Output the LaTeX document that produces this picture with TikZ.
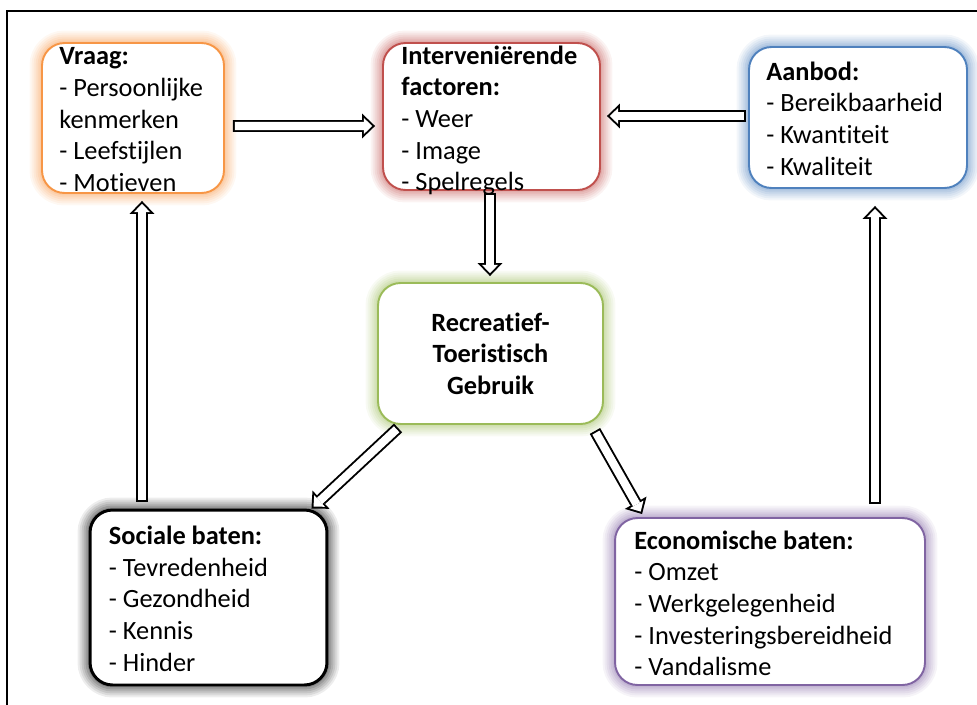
\documentclass[tikz,border=0pt]{standalone}
\usepackage{fontspec}
\setmainfont{Carlito}[Ligatures=NoCommon]
\usetikzlibrary{arrows.meta}
\definecolor{vraagoranje}{HTML}{F79646}
\definecolor{factorrood}{HTML}{C0504D}
\definecolor{aanbodblauw}{HTML}{4F81BD}
\definecolor{gebruikgroen}{HTML}{9BBB59}
\definecolor{batenpaars}{HTML}{8064A2}
\begin{document}
\begin{tikzpicture}[x=0.02cm, y=-0.02cm,
    kader/.style={rectangle, rounded corners=0.45cm, fill=white, line width=1.1pt, inner sep=0pt},
    gloed/.style={draw=#1,
      preaction={draw=#1, draw opacity=0.07, line width=0.5cm},
      preaction={draw=#1, draw opacity=0.08, line width=0.42cm},
      preaction={draw=#1, draw opacity=0.09, line width=0.34cm},
      preaction={draw=#1, draw opacity=0.10, line width=0.26cm},
      preaction={draw=#1, draw opacity=0.12, line width=0.18cm},
      preaction={draw=#1, draw opacity=0.14, line width=0.1cm}},
    tekst/.style={anchor=north west, inner sep=0pt, align=left,
      font=\fontsize{15}{18}\selectfont, execute at begin node=\strut}]
      \useasboundingbox (0,0) rectangle (977,704);
      \draw[line width=1.7pt] (7,11) rectangle (1020,740);
      \begin{scope}[every node/.style={kader}]
        \node[gloed=vraagoranje, minimum width=3.64cm, minimum height=3cm] (vraag) at (133,118) {};
        \node[gloed=factorrood, minimum width=4.34cm, minimum height=2.94cm] (factoren) at (491.5,116.5) {};
        \node[gloed=aanbodblauw, minimum width=4.36cm, minimum height=2.82cm] (aanbod) at (858,117.5) {};
        \node[gloed=gebruikgroen, minimum width=4.5cm, minimum height=2.82cm, align=center,
          font=\fontsize{15}{18}\selectfont\bfseries] (gebruik) at (490.5,353.5)
          {Recreatief-\\Toeristisch\\Gebruik};
        \node[gloed=black, line width=1.7pt, minimum width=4.74cm, minimum height=3.5cm] (sociaal) at (208.5,597.5) {};
        \node[gloed=batenpaars, minimum width=6.2cm, minimum height=3.34cm] (economisch) at (770,601.5) {};
      \end{scope}
      \node[tekst] (vraag-tekst) at ([shift={(18,5.3)}]vraag.north west)
        {\textbf{Vraag:}\\- Persoonlijke\\kenmerken\\- Leefstijlen\\- Motieven};
      \node[tekst] (factoren-tekst) at ([shift={(19,3.3)}]factoren.north west)
        {\textbf{Interveniërende}\\\textbf{factoren:}\\- Weer\\- Image\\- Spelregels};
      \node[tekst] (aanbod-tekst) at ([shift={(18,15.3)}]aanbod.north west)
        {\textbf{Aanbod:}\\- Bereikbaarheid\\- Kwantiteit\\- Kwaliteit};
      \node[tekst] (sociaal-tekst) at ([shift={(20,17.3)}]sociaal.north west)
        {\textbf{Sociale baten:}\\- Tevredenheid\\- Gezondheid\\- Kennis\\- Hinder};
      \node[tekst] (economisch-tekst) at ([shift={(20,13.3)}]economisch.north west)
        {\textbf{Economische baten:}\\- Omzet\\- Werkgelegenheid\\- Investeringsbereidheid\\- Vandalisme};
      \begin{scope}[every edge/.style={draw=black, line width=6.8pt,
          -{Triangle[length=7.4pt, width=14.2pt, line width=0pt]},
          postaction={draw=white, line width=4.6pt, shorten <=1.1pt, shorten >=1.6pt,
            -{Triangle[length=4.7pt, width=9pt, line width=0pt]}}}]
        \path ([shift={(8,8)}]vraag.east) edge ([shift={(-7,9.5)}]factoren.west);
        \path ([shift={(-2,-1.5)}]aanbod.west) edge ([shift={(6,-0.5)}]factoren.east);
        \path ([shift={(-1.5,2)}]factoren.south) edge ([shift={(-0.5,-6)}]gebruik.north);
        \path ([shift={(21,3)}]gebruik.south west) edge ([shift={(-17,0)}]sociaal.north east);
        \path ([shift={(-9,6)}]gebruik.south east) edge ([shift={(28,-3)}]economisch.north west);
        \path ([shift={(-66.5,-7)}]sociaal.north) edge ([shift={(9,7)}]vraag.south);
        \path ([shift={(105,-13)}]economisch.north) edge ([shift={(17,17)}]aanbod.south);
      \end{scope}
\end{tikzpicture}
\end{document}
